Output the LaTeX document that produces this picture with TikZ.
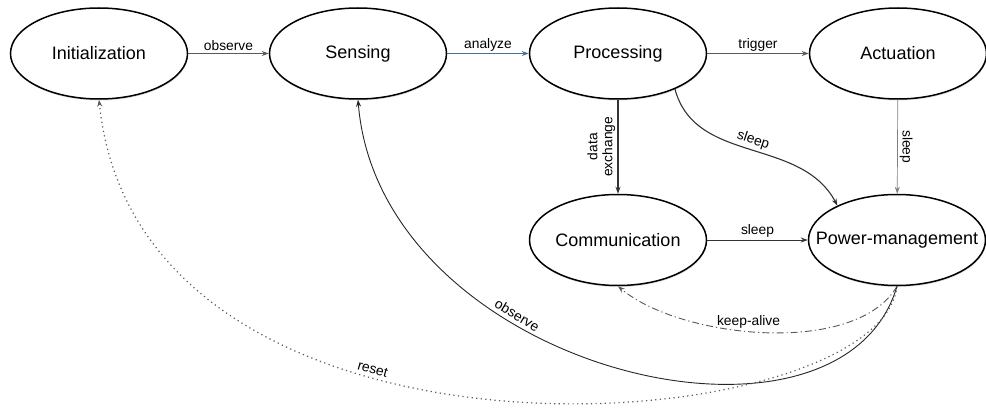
\documentclass[tikz,border=0pt]{standalone}
\usepackage{fontspec}
\setmainfont{Liberation Sans}
\usetikzlibrary{arrows.meta,shadows,shapes.geometric}
\begin{document}
\begin{tikzpicture}[x=1pt,y=1pt,
  st/.style={ellipse, draw=black, line width=1.5pt, fill=white,
    minimum width=177pt, minimum height=91pt, inner sep=0pt,
    font=\fontsize{18}{21}\selectfont,
    drop shadow={shadow xshift=0.5pt, shadow yshift=-1.5pt, opacity=0.25}},
  e/.style={draw=black!65, line width=0.9pt, -{Stealth[length=7pt,width=5pt]}},
  lab/.style={font=\fontsize{13.8}{15}\selectfont, text=black, inner sep=2pt},
  slab/.style={lab, sloped, above, inner sep=3pt},
  bluee/.style={draw={rgb,255:red,75;green,110;blue,155}},
  thickdark/.style={draw=black!80, line width=1.6pt},
  dashdotline/.style={dash pattern=on 7pt off 3pt on 1.2pt off 3pt},
  dotline/.style={line width=1.2pt, dash pattern=on 1.2pt off 3.4pt}
]
\useasboundingbox (0,0) rectangle (986,-417);

\node[st] (init) at (99,-53.5) {\makebox[0pt]{Initialization}};
\node[st] (sens) at (358,-53.5) {\makebox[0pt]{Sensing}};
\node[st] (proc) at (618,-53.5) {\makebox[0pt]{Processing}};
\node[st] (act) at (898,-53.5) {\makebox[0pt]{Actuation}};
\node[st] (comm) at (618,-240) {\makebox[0pt]{Communication}};
\node[st] (pm) at (897,-240) {\makebox[0pt]{Power-management}};

\draw[e] (init) -- node[lab, above] {observe} (sens);
\draw[e, bluee] (sens) -- node[lab, above] {analyze} (proc);
\draw[e] (proc) -- node[lab, above] {trigger} (act);
\draw[e, thickdark] (proc) -- node[lab, anchor=south, rotate=90, align=center] {data\\exchange} (comm);
\draw[e, draw=black!80, line width=1.1pt] (proc.-32) to[out=-75, in=118] node[slab, pos=0.5] {sleep} (pm.150);
\draw[e, draw=black!50, line width=0.7pt] (act) -- node[lab, anchor=south, rotate=-90] {sleep} (pm);
\draw[e, draw=black!80] (comm) -- node[lab, above] {sleep} (pm);

\draw[e, dashdotline] (pm.south) to[out=-120, in=-40, looseness=0.75] node[lab, above, pos=0.55] {keep-alive} (comm.south);
\draw[e, draw=black!85] (pm.south) .. controls (840,-480) and (380,-370) .. node[slab, pos=0.64] {observe} (sens.south);
\draw[e, dotline] (pm.south) .. controls (880,-440) and (140,-500) .. node[slab, pos=0.62] {reset} (init.south);
\end{tikzpicture}
\end{document}
